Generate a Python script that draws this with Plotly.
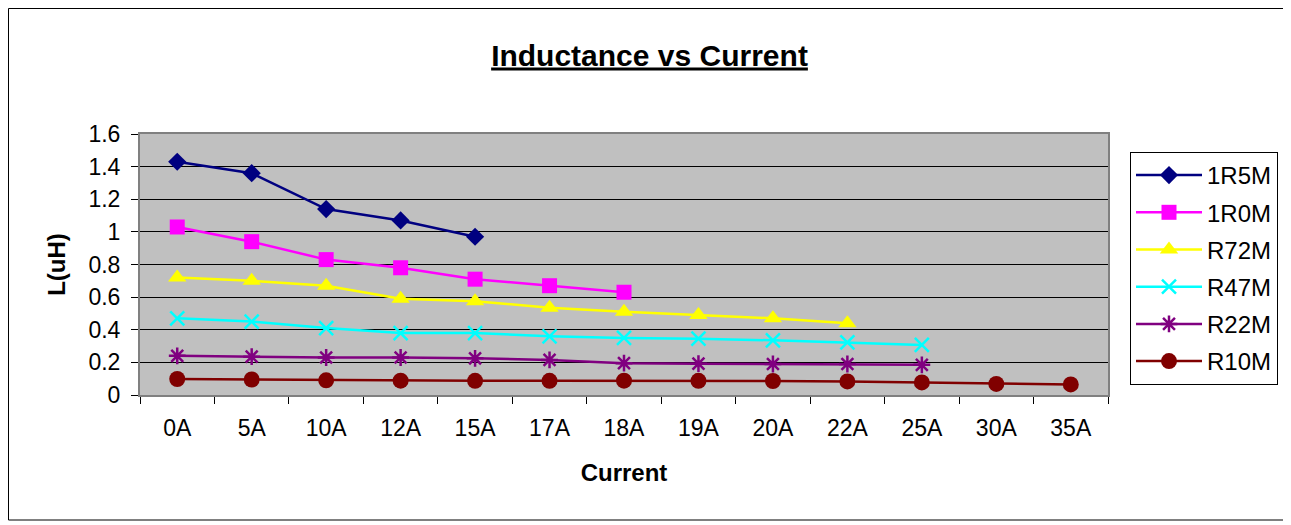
import plotly.graph_objects as go

categories = ["0A", "5A", "10A", "12A", "15A", "17A", "18A", "19A", "20A", "22A", "25A", "30A", "35A"]
s_1R5M = [1.43, 1.36, 1.14, 1.07, 0.97]
s_1R0M = [1.03, 0.94, 0.83, 0.78, 0.71, 0.67, 0.63]
s_R72M = [0.72, 0.70, 0.67, 0.59, 0.575, 0.535, 0.51, 0.49, 0.47, 0.44]
s_R47M = [0.47, 0.45, 0.41, 0.38, 0.38, 0.36, 0.35, 0.345, 0.335, 0.323, 0.307]
s_R22M = [0.24, 0.235, 0.23, 0.23, 0.225, 0.215, 0.195, 0.192, 0.19, 0.19, 0.185]
s_R10M = [0.098, 0.095, 0.09, 0.088, 0.087, 0.087, 0.088, 0.087, 0.086, 0.083, 0.077, 0.068, 0.065]

series = [
    ("1R5M", s_1R5M, "#000080", dict(symbol="diamond", size=14)),
    ("1R0M", s_1R0M, "#FF00FF", dict(symbol="square", size=15)),
    ("R72M", s_R72M, "#FFFF00", dict(symbol="triangle-up", size=16)),
    ("R47M", s_R47M, "#00FFFF", dict(symbol="x-thin-open", size=14, line=dict(width=2.5, color="#00FFFF"))),
    ("R22M", s_R22M, "#800080", dict(symbol="asterisk-open", size=14, line=dict(width=2.5, color="#800080"))),
    ("R10M", s_R10M, "#800000", dict(symbol="circle", size=16)),
]

fig = go.Figure()
for name, vals, color, mk in series:
    mk = dict(mk)
    mk["color"] = color
    fig.add_trace(go.Scatter(
        x=categories[:len(vals)], y=vals, name=name, mode="lines+markers",
        legendgroup=name,
        line=dict(color=color, width=2.5), marker=mk,
    ))

# page body has an 8px margin, so figure pixel = screen pixel - 8
OFF = 8
W, H = 1291 - OFF, 525 - OFF
L, R, T, B = 140 - OFF, W - (1108 - OFF), 134 - OFF, H - (395 - OFF)
pw, ph = W - L - R, H - T - B

def px_to_paper_x(px):
    return (px - OFF - L) / pw

def px_to_paper_y(py):
    return (H - B - (py - OFF)) / ph

fig.add_shape(type="rect", xref="paper", yref="paper",
              x0=px_to_paper_x(8.5), x1=px_to_paper_x(1285),
              y0=px_to_paper_y(520), y1=px_to_paper_y(8.5),
              line=dict(color="black", width=1), fillcolor="rgba(0,0,0,0)", layer="below")

fig.update_layout(
    width=W, height=H,
    margin=dict(l=L, r=R, t=T, b=B),
    paper_bgcolor="white",
    plot_bgcolor="#C0C0C0",
    font=dict(family="Arial, Liberation Sans, sans-serif", color="black", size=23),
    title=dict(text="<b><u>Inductance vs Current</u></b>", x=0.5, xref="container",
               y=1 - (55 - OFF) / H, yanchor="middle", font=dict(size=30)),
    legend=dict(x=px_to_paper_x(1130), y=px_to_paper_y(152), xanchor="left", yanchor="top",
                bgcolor="white", bordercolor="black", borderwidth=1,
                font=dict(size=24), tracegroupgap=3, itemwidth=66),
    xaxis=dict(type="category", categoryorder="array", categoryarray=categories,
               range=[-0.5, 12.5], tickson="boundaries", ticks="outside", ticklen=7,
               tickcolor="black", showgrid=False, showline=True, linecolor="#808080",
               linewidth=2, mirror=True, zeroline=False, ticklabelstandoff=11,
               title=dict(text="<b>Current</b>", standoff=25, font=dict(size=24))),
    yaxis=dict(range=[0, 1.6], dtick=0.2, showgrid=True, gridcolor="black", gridwidth=1,
               ticks="outside", ticklen=7, tickcolor="black", showline=True,
               linecolor="#808080", linewidth=2, mirror=True, zeroline=False,
               tickformat="~g", ticklabelstandoff=6,
               title=dict(text="<b>L(uH)</b>", standoff=16, font=dict(size=24))),
)

fig.write_html("out.html")
